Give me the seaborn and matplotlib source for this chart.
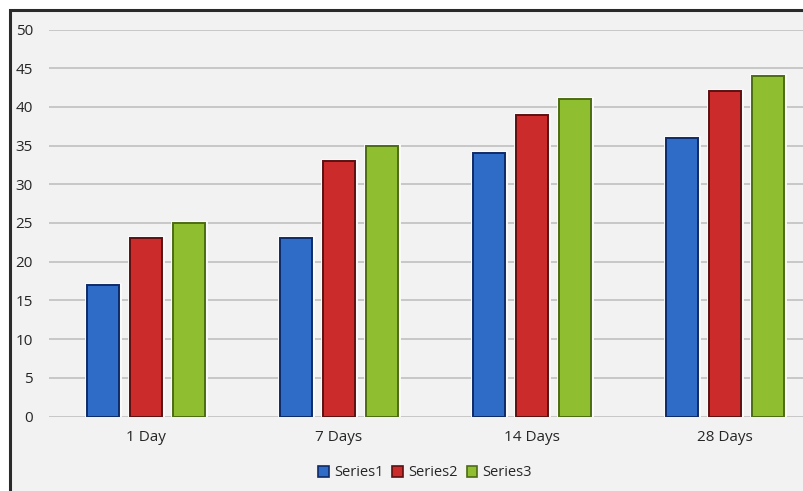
import pandas as pd
import matplotlib.pyplot as plt
import matplotlib.patches as mpatches
import matplotlib.patheffects as pe
import seaborn as sns

# data
categories = ["1 Day", "7 Days", "14 Days", "28 Days"]
series_names = ["Series1", "Series2", "Series3"]
series1 = [17, 23, 34, 36]
series2 = [23, 33, 39, 42]
series3 = [25, 35, 41, 44]
y_ticks = [0, 5, 10, 15, 20, 25, 30, 35, 40, 45, 50]

fills = ["#2f6cc7", "#cc2b2b", "#8fbe30"]
edges = ["#0e2a68", "#5c1010", "#4c6c12"]

rows = []
for name, vals in zip(series_names, [series1, series2, series3]):
    for cat, v in zip(categories, vals):
        rows.append({"category": cat, "series": name, "value": v})
df = pd.DataFrame(rows)

sns.set_theme(style="white")
plt.rcParams["font.family"] = ["Open Sans", "DejaVu Sans"]

W, H = 804, 491
fig = plt.figure(figsize=(W / 100, H / 100), dpi=100)
fig.patch.set_facecolor("white")

# chart frame (left/top border visible, right/bottom cropped)
frame = mpatches.Rectangle((10 / W, -0.1), 1.2, 1 - 10 / H + 0.1,
                           transform=fig.transFigure, facecolor="#f2f2f2",
                           edgecolor="#2a2a2a", linewidth=2.2, zorder=-5)
fig.patches.append(frame)

ax = fig.add_axes([49.5 / W, 1 - 416.5 / H, 772 / W, (416.5 - 29.5) / H])
ax.set_facecolor("none")
ax.set_zorder(1)

sns.barplot(data=df, x="category", y="value", hue="series", order=categories,
            hue_order=series_names, palette=fills, saturation=1, width=0.67, gap=0.25,
            ax=ax, zorder=3)

for i, cont in enumerate(ax.containers):
    for bar in cont:
        bar.set_edgecolor(edges[i])
        bar.set_linewidth(1.4)
        bar.set_path_effects([pe.Stroke(linewidth=3.5, foreground="#fbfbfb"), pe.Normal()])

ax.set_ylim(0, 50)
ax.set_xlim(-0.5, 3.5)
ax.set_yticks(y_ticks)
ax.yaxis.grid(True, color="#c4c4c4", linewidth=1.3, zorder=0)
ax.set_axisbelow(True)
for s in ax.spines.values():
    s.set_visible(False)
ax.tick_params(axis="y", length=0, pad=12, labelsize=11, labelcolor="#262626")
ax.tick_params(axis="x", length=0, pad=10, labelsize=11, labelcolor="#262626")
ax.set_xlabel("")
ax.set_ylabel("")

handles = [mpatches.Patch(facecolor=f, edgecolor=e, linewidth=1.2) for f, e in zip(fills, edges)]
ax.legend(handles, series_names, loc="center", bbox_to_anchor=(425 / W, 1 - 473 / H),
          bbox_transform=fig.transFigure, ncol=3, frameon=False, fontsize=10.5,
          handlelength=0.75, handleheight=0.75, handletextpad=0.35, columnspacing=0.6,
          labelcolor="#262626")

fig.savefig("out.png", dpi=100)
